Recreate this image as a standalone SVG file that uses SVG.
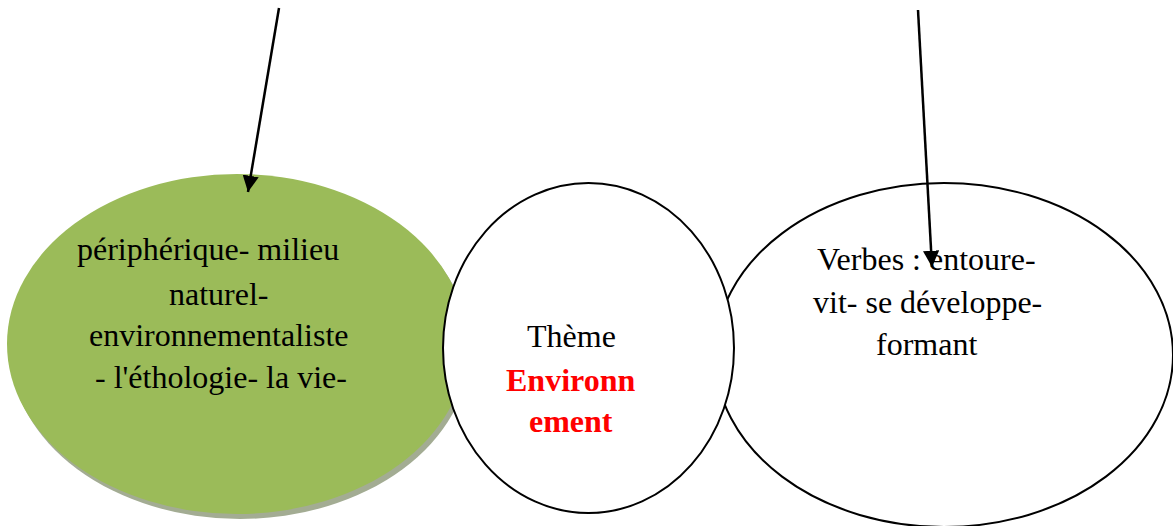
<svg xmlns="http://www.w3.org/2000/svg" width="1173" height="526" viewBox="0 0 1173 526">
<style>
.t{font-family:"Liberation Serif","Times New Roman",serif;font-size:32px;fill:#000}
.b{font-weight:bold;fill:#FF0000}
.e{fill:#fff;stroke:#000;stroke-width:2}
.c{stroke:#000;stroke-width:2.5;fill:none}
</style>
<defs>
<marker id="ah" viewBox="0 0 10 10" refX="10" refY="5" markerWidth="6.5" markerHeight="6.5" markerUnits="strokeWidth" orient="auto">
<path d="M0,0 L10,5 L0,10 z" fill="#000"/>
</marker>
</defs>
<rect width="1173" height="526" fill="#fff"/>
<g id="node-lexique">
<ellipse cx="240" cy="349" rx="230" ry="170" fill="#A3AC93"/>
<ellipse cx="237" cy="344" rx="230" ry="170" fill="#9BBB59"/>
<text class="t" x="77" y="260">périphérique- milieu</text>
<text class="t" x="169" y="305">naturel-</text>
<text class="t" x="89" y="346">environnementaliste</text>
<text class="t" x="95" y="388">- l'éthologie- la vie-</text>
</g>
<g id="node-verbes">
<ellipse class="e" cx="944" cy="355" rx="229" ry="172"/>
<text class="t" x="817" y="270">Verbes : entoure-</text>
<text class="t" x="813" y="313">vit- se développe-</text>
<text class="t" x="876" y="355">formant</text>
</g>
<g id="node-theme">
<ellipse class="e" cx="588.5" cy="348" rx="145.5" ry="165"/>
<text class="t" x="527" y="347">Thème</text>
<text class="t b" x="506" y="391">Environn</text>
<text class="t b" x="529" y="432">ement</text>
</g>
<g id="connectors">
<line class="c" x1="279" y1="8" x2="248" y2="192" marker-end="url(#ah)"/>
<line class="c" x1="918" y1="10" x2="932" y2="267" marker-end="url(#ah)"/>
</g>
</svg>
